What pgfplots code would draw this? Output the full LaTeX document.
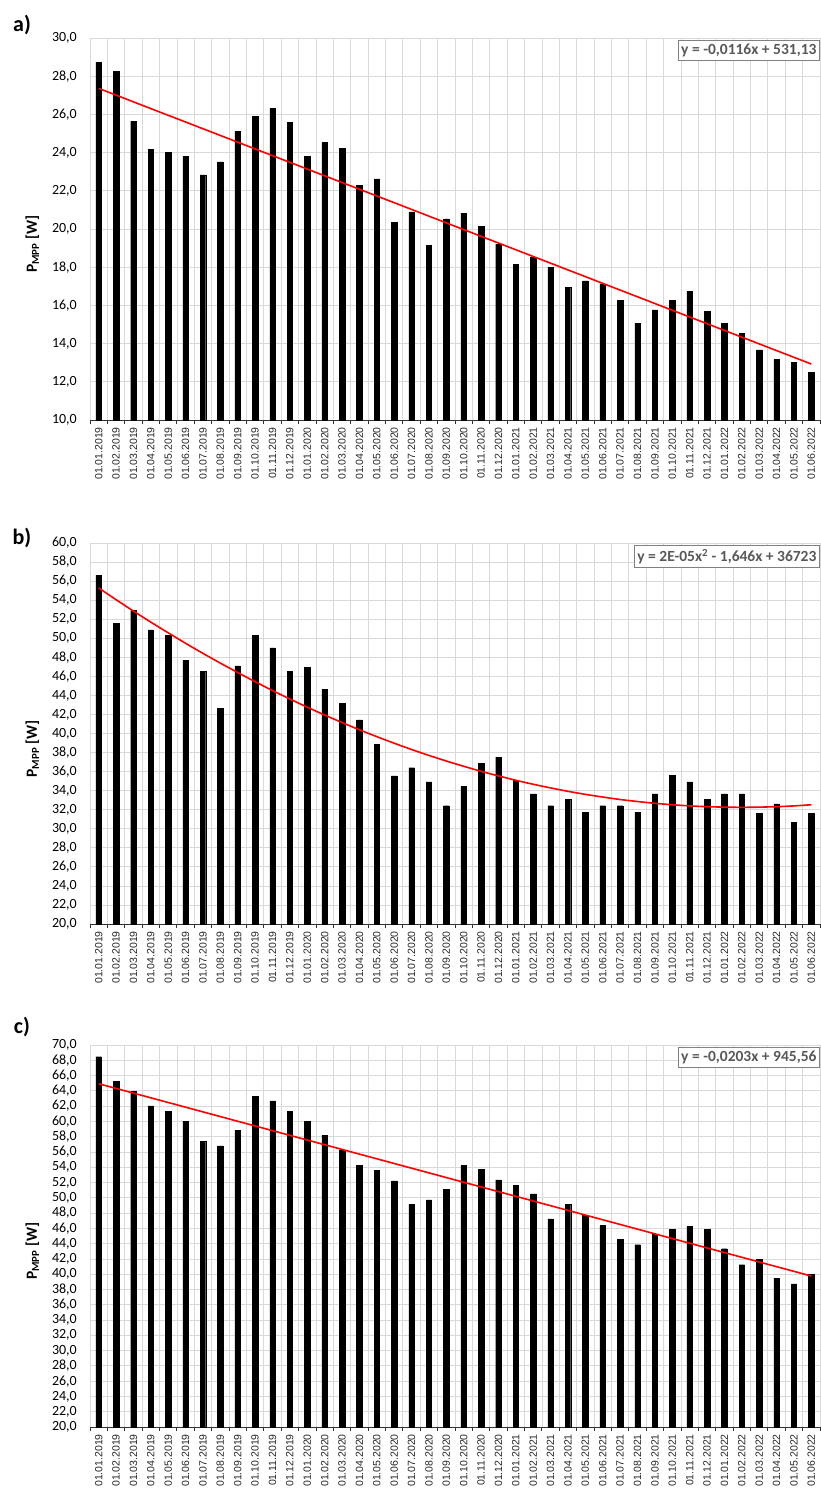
\documentclass[border=0pt]{standalone}
\usepackage{fontspec}
\setmainfont{Carlito}
\newfontfamily\lsans{Liberation Sans}
\usepackage{pgfplots}
\usepackage{pgfplotstable}
\pgfplotsset{compat=1.18}
\definecolor{gridc}{HTML}{D9D9D9}
\definecolor{txtc}{HTML}{262626}
\definecolor{eqc}{HTML}{595959}

\pgfplotstableread{
i a b c
0 28.74 56.64 68.47
1 28.27 51.57 65.28
2 25.65 52.90 63.97
3 24.17 50.87 62.05
4 24.00 50.31 61.30
5 23.80 47.68 60.03
6 22.84 46.49 57.41
7 23.52 42.61 56.80
8 25.11 47.09 58.81
9 25.91 50.31 63.31
10 26.31 48.98 62.70
11 25.60 46.49 61.30
12 23.80 46.98 60.03
13 24.52 44.60 58.20
14 24.22 43.20 56.28
15 22.30 41.42 54.22
16 22.63 38.83 53.57
17 20.34 35.54 52.21
18 20.90 36.41 49.15
19 19.14 34.91 49.72
20 20.53 32.42 51.12
21 20.83 34.45 54.22
22 20.13 36.90 53.70
23 19.21 37.53 52.34
24 18.14 35.05 51.60
25 18.51 33.65 50.51
26 18.00 32.42 47.23
27 16.95 33.12 49.10
28 17.28 31.72 47.67
29 17.13 32.42 46.36
30 16.25 32.42 44.52
31 15.07 31.72 43.86
32 15.76 33.65 45.22
33 16.25 35.64 45.87
34 16.74 34.91 46.31
35 15.69 33.12 45.87
36 15.07 33.65 43.34
37 14.52 33.65 41.24
38 13.67 31.65 41.98
39 13.18 32.60 39.49
40 13.02 30.64 38.75
41 12.48 31.65 39.97
}\datatab

\pgfplotstableread{
i t
0 55.28
1 54.05
2 52.85
3 51.69
4 50.57
5 49.47
6 48.41
7 47.39
8 46.40
9 45.44
10 44.51
11 43.62
12 42.76
13 41.94
14 41.15
15 40.39
16 39.67
17 38.98
18 38.32
19 37.70
20 37.11
21 36.56
22 36.03
23 35.55
24 35.09
25 34.67
26 34.29
27 33.93
28 33.61
29 33.33
30 33.07
31 32.86
32 32.67
33 32.52
34 32.40
35 32.32
36 32.27
37 32.25
38 32.27
39 32.32
40 32.40
41 32.52
}\trendb

\tikzset{
  eq/.style={draw=gray, line width=1.1pt, fill=white, text=eqc, font=\bfseries\fontsize{15.5}{17}\selectfont, anchor=north east, inner xsep=3pt, inner ysep=3.5pt},
  lab/.style={font=\bfseries\fontsize{22}{24}\selectfont},
}

\pgfplotsset{
  panel/.style={
    scale only axis, width=730pt,
    xmin=-0.5, xmax=41.5,
    xtick={0,...,41},
    xticklabels={01.01.2019,01.02.2019,01.03.2019,01.04.2019,01.05.2019,01.06.2019,01.07.2019,01.08.2019,01.09.2019,01.10.2019,01.11.2019,01.12.2019,01.01.2020,01.02.2020,01.03.2020,01.04.2020,01.05.2020,01.06.2020,01.07.2020,01.08.2020,01.09.2020,01.10.2020,01.11.2020,01.12.2020,01.01.2021,01.02.2021,01.03.2021,01.04.2021,01.05.2021,01.06.2021,01.07.2021,01.08.2021,01.09.2021,01.10.2021,01.11.2021,01.12.2021,01.01.2022,01.02.2022,01.03.2022,01.04.2022,01.05.2022,01.06.2022},
    minor xtick={-0.5,0.5,...,41.5},
    xminorgrids=true, xmajorgrids=false, ymajorgrids=true,
    grid style={gridc, line width=0.8pt},
    minor grid style={gridc, line width=0.8pt},
    axis x line=bottom, axis y line=left,
    axis line style={-},
    x axis line style={black!80, line width=0.9pt},
    y axis line style={draw=none},
    major tick length=0pt,
    minor tick length=4pt,
    tick align=outside,
    minor x tick style={black!80, line width=0.9pt},
    xticklabel shift=7pt,
    xticklabel style={rotate=90, anchor=east, font=\lsans\fontsize{10.5}{11}\selectfont, text=txtc, inner sep=0pt},
    yticklabel style={font=\fontsize{14}{15}\selectfont, text=black, inner sep=0pt},
    yticklabel shift=13pt,
    /pgf/number format/.cd, fixed, fixed zerofill, precision=1, use comma, assume math mode=true,
    /pgfplots/.cd,
    ylabel={\bfseries P\textsubscript{MPP} [W]},
    ylabel style={at={(axis description cs:-0.079,0.46)}, anchor=center, font=\fontsize{15.5}{17}\selectfont},
    ybar, bar width=5.5pt,
    clip=true,
  },
  trend/.style={red, line width=1.6pt, no marks, sharp plot},
}

\begin{document}
\begin{tikzpicture}[x=1pt,y=1pt]
\path[use as bounding box] (0,0) rectangle (821,-1501);

% panel a
\begin{axis}[panel, at={(90pt,-420pt)}, anchor=south west, height=382pt,
  ymin=10, ymax=30, ytick={10,12,...,30}]
\addplot[fill=black, draw=black] table[x=i, y=a] {\datatab};
\addplot[trend] coordinates {(0,27.36) (41,12.93)};
\node[eq] at (rel axis cs:1,0.995) {y = -0,0116x + 531,13};
\end{axis}
\node[lab] at (22,-25) {a)};

% panel b
\begin{axis}[panel, at={(90pt,-924pt)}, anchor=south west, height=381pt,
  ymin=20, ymax=60, ytick={20,22,...,60}]
\addplot[fill=black, draw=black] table[x=i, y=b] {\datatab};
\addplot[trend, smooth] table[x=i, y=t] {\trendb};
\node[eq] at (rel axis cs:1,0.995) {y = 2E-05x\textsuperscript{2} - 1,646x + 36723};
\end{axis}
\node[lab] at (22,-538) {b)};

% panel c
\begin{axis}[panel, at={(90pt,-1427pt)}, anchor=south west, height=382pt,
  ymin=20, ymax=70, ytick={20,22,...,70}]
\addplot[fill=black, draw=black] table[x=i, y=c] {\datatab};
\addplot[trend] coordinates {(0,64.93) (41,39.76)};
\node[eq] at (rel axis cs:1,0.995) {y = -0,0203x + 945,56};
\end{axis}
\node[lab] at (22,-1027) {c)};
\end{tikzpicture}
\end{document}
